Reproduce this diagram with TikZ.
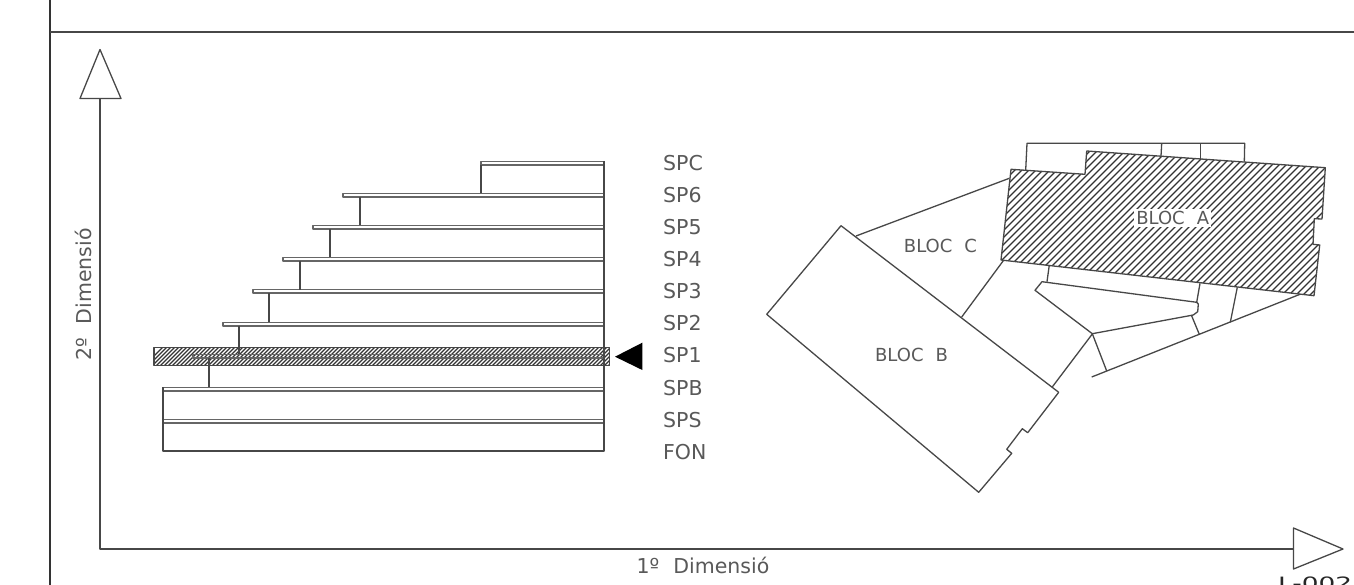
\documentclass[tikz,border=0pt]{standalone}
\usepackage{graphicx}
\usepackage{fontspec}
\setmainfont{DejaVu Sans}
\tikzset{
  ln/.style={draw=black!72,line width=1.3pt,line join=round},
  hatchln/.style={draw=black!80,line width=1.1pt},
  lbl/.style={inner sep=0pt,text=black!65,font=\fontsize{20.5}{20.5}\selectfont},
  floorlbl/.style={lbl,anchor=west},
  blocklbl/.style={inner sep=0pt,text=black!65,font=\fontsize{18}{18}\selectfont},
  blk/.style={blocklbl,fill=white,inner sep=2pt}
}
\begin{document}
\begin{tikzpicture}[x=1pt,y=-1pt]
\useasboundingbox (0,0) rectangle (1354,585);
\clip (0,0) rectangle (1354,585);
\fill[white] (0,0) rectangle (1354,585);
% frame
\draw[ln,line width=1.7pt,draw=black!80] (50,0) -- (50,585);
\draw[ln,line width=1.7pt] (50,32) -- (1354,32);
% axes
\coordinate (ua) at (100,49.5);
\coordinate (ul) at (80,98.5);
\coordinate (ur) at (121,98.5);
\coordinate (ub) at (100,98.5);
\coordinate (o) at (100,549);
\coordinate (ra) at (1343,549);
\coordinate (rt) at (1293.5,528);
\coordinate (rb) at (1293.5,569);
\coordinate (rl) at (1293.5,549);
\draw[ln] (ua) -- (ul) -- (ur) -- cycle;
\draw[ln] (rt) -- (ra) -- (rb) -- cycle;
\draw[ln] (ub) -- (o) -- (rl);
% hatched level band
\begin{scope}
\clip (154,347.5) rectangle (609.5,365.5);
\foreach \i in {0,4,...,480} \draw[hatchln] (140+\i,370) -- (165+\i,345);
\end{scope}
\draw[ln] (154,347.5) rectangle (609.5,365.5);
% building section
\foreach \xl/\yt in {343/193.5,313/225.5,283/257.5,253/289.5,223/322.5,193/354.5,163/387.5,163/419.5,481/161.5}{
  \draw[ln,line width=1.2pt,draw=black!60] (\xl,\yt) rectangle (604,\yt+3.5);
}
\foreach \vx/\vt/\vb in {481/165/193,360/197/225,330/229/257,300/261/289.5,269/293/322,239/325.5/354,209/358/387}{
  \draw[ln] (\vx,\vt) -- (\vx,\vb);
}
\draw[ln] (604,161) -- (604,451) -- (163,451) -- (163,387);
% black marker
\fill[black] (615,356.7) -- (642.3,342.7) -- (642.3,370) -- cycle;
% floor labels
\foreach \t/\yy in {SPC/163,SP6/195,SP5/227,SP4/259,SP3/291,SP2/323,SP1/355,SPB/388,SPS/420,FON/452}{
  \node[floorlbl] at (663,\yy) {\t};
}
% axis labels
\node[lbl,anchor=west] (xlab) at (636.5,565.5) {1º\hspace{14pt}Dimensió};
\node[lbl,anchor=west,rotate=90] (ylab) at (83,361) {2º\hspace{14pt}Dimensió};
% Block A
\begin{scope}
\clip (1011,169.3) -- (1085,174.3) -- (1086.7,151) -- (1325.3,167.7) -- (1322,219) -- (1314.3,218.7) -- (1313,244.3) -- (1319.7,245) -- (1314,295.7) -- (1001,260) -- cycle;
\foreach \i in {0,7,...,490} \draw[hatchln,line width=1.25pt] (850+\i,300) -- (1010+\i,140);
\end{scope}
\draw[ln] (1011,169.3) -- (1085,174.3) -- (1086.7,151) -- (1325.3,167.7) -- (1322,219) -- (1314.3,218.7) -- (1313,244.3) -- (1319.7,245) -- (1314,295.7) -- (1001,260) -- cycle;
\draw[ln] (1025.7,170) -- (1027,143.3) -- (1244.7,143.3) -- (1244.3,161.7);
\draw[ln] (1161.7,143.3) -- (1161,156);
\draw[ln] (1200.3,143.3) -- (1200.3,158.7);
% Block B
\draw[ln] (841,225.7) -- (766.7,314.3) -- (978.7,492.3) -- (1011.7,453.3) -- (1006.7,449.3) -- (1022.3,428.7) -- (1027.7,432.7) -- (1058.7,392.3) -- cycle;
% connecting lines
\draw[ln] (1009.3,178.3) -- (856,236);
\draw[ln] (1003.3,260.7) -- (961.7,317);
\draw[ln] (1092.3,334) -- (1052,387.3);
\draw[ln] (1049.3,265) -- (1047,281.7);
\draw[ln] (1035,290.3) -- (1042,281.7) -- (1196.7,302.3) -- (1198.3,304) -- (1197.7,311.7) -- (1193.3,315) -- (1092.3,333.7) -- cycle;
\draw[ln] (1200,283.3) -- (1196.7,302.3);
\draw[ln] (1237.3,287.3) -- (1230.3,322.3);
\draw[ln] (1191.3,315) -- (1199.3,334.3);
\draw[ln] (1092.3,333.7) -- (1106.7,371);
\draw[ln] (1091.7,377) -- (1300,294.3);
% block labels
\node[blk] (bA) at (1172.7,218) {BLOC\hspace{12pt}A};
\node[blocklbl] (bC) at (940.5,246) {BLOC\hspace{12pt}C};
\node[blocklbl] (bB) at (911.5,355) {BLOC\hspace{12pt}B};
% sheet number, cut by the page edge
\node[inner sep=0pt,anchor=base west,text=black!85,font=\fontsize{17}{17}\selectfont] (sheet) at (1278,589.4) {\scalebox{1.55}[1]{L-002}};
\end{tikzpicture}
\end{document}
